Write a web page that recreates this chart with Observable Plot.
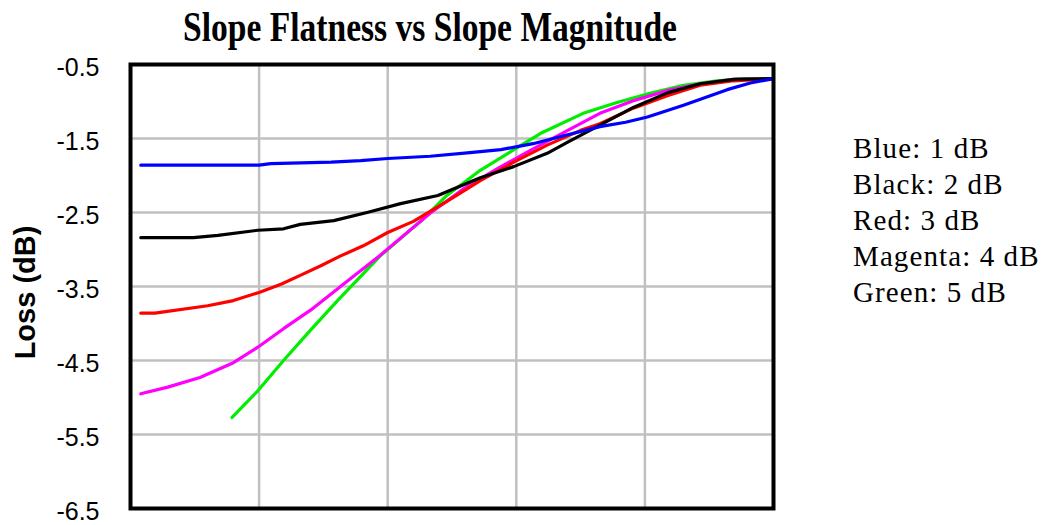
<!DOCTYPE html>
<html>
<head>
<meta charset="utf-8">
<script src="https://cdn.jsdelivr.net/npm/d3@7"></script>
<script src="https://cdn.jsdelivr.net/npm/@observablehq/plot@0.6"></script>
<style>
  html, body { margin: 0; padding: 0; background: #fff; }
  #wrap { position: relative; width: 1047px; height: 525px; overflow: hidden; }
  #title { position: absolute; left: 430px; top: 5px; white-space: nowrap;
    font-family: "Liberation Serif", "Times New Roman", serif; font-weight: bold;
    font-size: 43px; line-height: 1; color: #000;
    transform: translateX(-50%) scaleX(0.78); transform-origin: center; }
  #legend { position: absolute; left: 853px; top: 130px;
    font-family: "Liberation Serif", "Times New Roman", serif; font-size: 29px;
    letter-spacing: 1.1px;
    line-height: 36px; color: #000; white-space: nowrap; }
  #chart { position: absolute; left: 0; top: 0; }
</style>
</head>
<body>
<div id="wrap">
  <div id="chart"></div>
  <div id="title"></div>
  <div id="legend"></div>
</div>
<script>
const titleText = "Slope Flatness vs Slope Magnitude";
const yLabel = "Loss (dB)";
const yTicks = [-6.5, -5.5, -4.5, -3.5, -2.5, -1.5, -0.5];
const xGrid = [1, 2, 3, 4];

const legendLabels = ["Blue: 1 dB", "Black: 2 dB", "Red: 3 dB", "Magenta: 4 dB", "Green: 5 dB"];
const seriesNames = ["Blue", "Black", "Red", "Magenta", "Green"];
const seriesColors = ["#0000ff", "#000000", "#ff0000", "#ff00ff", "#00ee00"];

const blueX = [0.08, 1.00, 1.09, 1.56, 1.79, 2.00, 2.33, 2.64, 2.88, 3.13, 3.40, 3.65, 3.85, 4.02, 4.30, 4.64, 4.82, 5.00];
const blueY = [-1.86, -1.86, -1.84, -1.82, -1.80, -1.77, -1.74, -1.69, -1.65, -1.57, -1.45, -1.34, -1.28, -1.21, -1.05, -0.84, -0.75, -0.69];

const blackX = [0.08, 0.49, 0.68, 0.99, 1.19, 1.32, 1.58, 1.84, 2.10, 2.39, 2.72, 2.98, 3.24, 3.40, 3.65, 3.91, 4.18, 4.43, 4.69, 5.00];
const blackY = [-2.84, -2.84, -2.81, -2.74, -2.72, -2.66, -2.61, -2.50, -2.38, -2.27, -2.03, -1.88, -1.70, -1.55, -1.32, -1.08, -0.88, -0.76, -0.70, -0.69];

const redX = [0.08, 0.19, 0.60, 0.80, 1.00, 1.17, 1.32, 1.48, 1.63, 1.81, 2.00, 2.20, 2.47, 2.72, 2.98, 3.24, 3.50, 3.65, 3.91, 4.18, 4.43, 4.69, 5.00];
const redY = [-3.86, -3.86, -3.76, -3.69, -3.58, -3.47, -3.35, -3.22, -3.09, -2.95, -2.77, -2.62, -2.34, -2.07, -1.82, -1.59, -1.39, -1.30, -1.09, -0.92, -0.78, -0.72, -0.69];

const magentaX = [0.08, 0.29, 0.54, 0.80, 0.99, 1.19, 1.40, 1.67, 1.94, 2.33, 2.59, 2.85, 3.11, 3.40, 3.65, 3.91, 4.18, 4.43, 4.69, 5.00];
const magentaY = [-4.95, -4.86, -4.73, -4.53, -4.32, -4.07, -3.82, -3.45, -3.08, -2.51, -2.18, -1.91, -1.66, -1.39, -1.16, -0.99, -0.85, -0.76, -0.70, -0.69];

const greenX = [0.79, 0.99, 1.19, 1.40, 1.61, 1.94, 2.28, 2.46, 2.72, 3.01, 3.19, 3.52, 3.79, 4.04, 4.30, 4.56, 4.78, 5.00];
const greenY = [-5.27, -4.91, -4.50, -4.09, -3.69, -3.09, -2.58, -2.27, -1.93, -1.62, -1.43, -1.16, -1.01, -0.89, -0.78, -0.72, -0.69, -0.69];

const xs = [blueX, blackX, redX, magentaX, greenX];
const ys = [blueY, blackY, redY, magentaY, greenY];

const rows = [];
seriesNames.forEach((name, i) => {
  xs[i].forEach((x, j) => rows.push({series: name, x, y: ys[i][j]}));
});
const drawOrder = ["Green", "Magenta", "Red", "Black", "Blue"];

const chart = Plot.plot({
  width: 1047,
  height: 525,
  marginLeft: 130,
  marginRight: 274,
  marginTop: 64,
  marginBottom: 17,
  style: {background: "#fff", overflow: "visible"},
  x: {domain: [0, 5], axis: null},
  y: {domain: [-6.5, -0.5], ticks: yTicks},
  marks: [
    Plot.ruleX(xGrid, {stroke: "#c0c0c0", strokeWidth: 2.5}),
    Plot.ruleY(yTicks.slice(1, -1), {stroke: "#c0c0c0", strokeWidth: 2.5}),
    ...drawOrder.map(name => Plot.line(rows.filter(d => d.series === name), {
      x: "x", y: "y", stroke: seriesColors[seriesNames.indexOf(name)],
      strokeWidth: 3.2, curve: "linear"
    })),
    Plot.frame({stroke: "#000", strokeWidth: 4}),
    Plot.axisY(yTicks, {
      tickSize: 0, tickPadding: 31, tickFormat: d => d.toFixed(1),
      fontSize: 25, fontFamily: "Liberation Sans, Arial, sans-serif", fill: "#000",
      dy: 3,
      label: null
    }),
    Plot.text([yLabel], {
      frameAnchor: "left", textAnchor: "middle", rotate: -90, dx: -105, dy: 6,
      fontSize: 29, fontWeight: "bold", fontFamily: "Liberation Sans, Arial, sans-serif", fill: "#000"
    })
  ]
});
document.getElementById("chart").appendChild(chart);
document.getElementById("title").textContent = titleText;
const leg = document.getElementById("legend");
legendLabels.forEach(t => { const d = document.createElement("div"); d.textContent = t; leg.appendChild(d); });
</script>
</body>
</html>
